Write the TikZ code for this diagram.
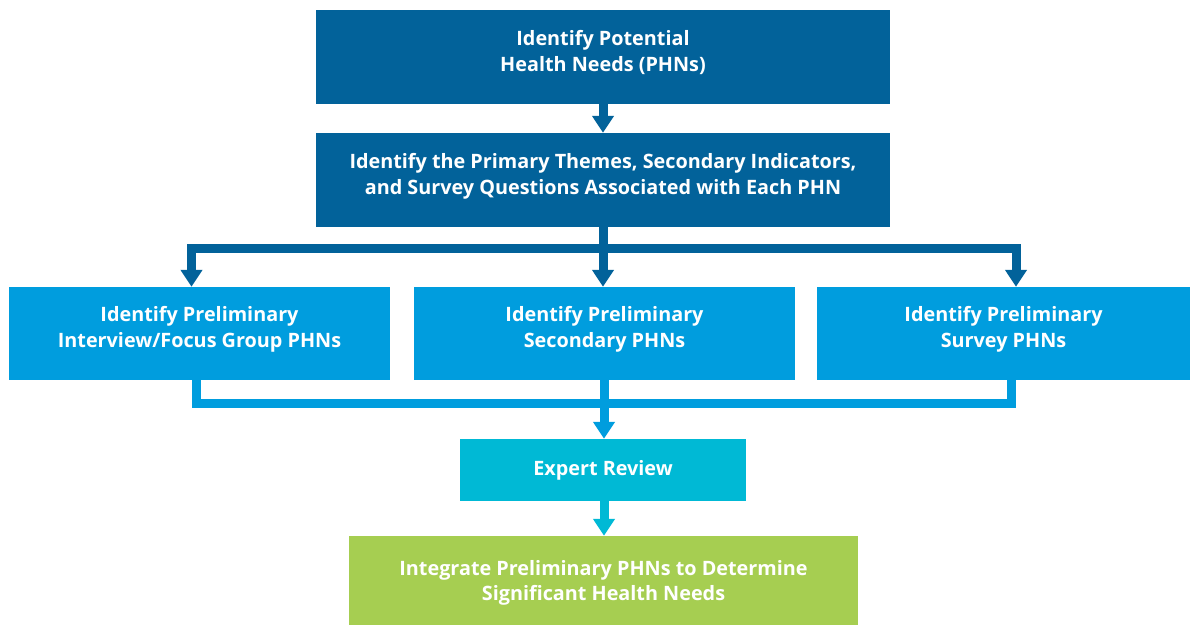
\documentclass[tikz,border=0pt]{standalone}
\usepackage{fontspec}
\setmainfont{Open Sans}
\usetikzlibrary{arrows.meta}
\definecolor{phnDark}{HTML}{02629A}
\definecolor{phnLight}{HTML}{009DDE}
\definecolor{phnTeal}{HTML}{00B9D5}
\definecolor{phnGreen}{HTML}{A6CE51}
\tikzset{
        boxnode/.style={align=center, inner sep=0pt, rectangle, text=white,
                font=\bfseries\fontsize{19.8}{25.5}\selectfont},
        % Top steps
        box_dark/.style={boxnode, fill=phnDark, minimum width=574pt, minimum height=94pt, text depth=12pt},
        % Preliminary PHN steps
        box_light/.style={boxnode, fill=phnLight, minimum height=93pt, text depth=13pt},
        % Review step
        box_teal/.style={boxnode, fill=phnTeal, minimum width=286pt, minimum height=62pt},
        % Final step
        box_green/.style={boxnode, fill=phnGreen, minimum width=509pt, minimum height=89pt, text depth=0pt},
        % Connectors
        tip/.style={-{Triangle[width=21pt,length=17pt]}},
        link_dark/.style={draw=phnDark, line width=9pt},
        link_light/.style={draw=phnLight, line width=9pt},
        link_teal/.style={draw=phnTeal, line width=9pt}
}
\begin{document}
\begin{tikzpicture}[x=1pt, y=-1pt]
    \useasboundingbox (0,0) rectangle (1191,626);
    \node[box_dark] (potential) at (603,57) {Identify Potential\\Health Needs (PHNs)};
    \node[box_dark] (themes) at (603,180) {Identify the Primary Themes, Secondary Indicators,\\and Survey Questions Associated with Each PHN};
    \node[box_light, minimum width=381pt] (interview) at (199.5,333.5) {Identify Preliminary\\Interview/Focus Group PHNs};
    \node[box_light, minimum width=381pt] (secondary) at (604.5,333.5) {Identify Preliminary\\Secondary PHNs};
    \node[box_light, minimum width=373pt] (survey) at (1003.5,333.5) {Identify Preliminary\\Survey PHNs};
    \node[box_teal] (review) at (603,470) {Expert Review};
    \node[box_green] (integrate) at (603.5,580.5) {Integrate Preliminary PHNs to Determine\\Significant Health Needs};

    % split
    \coordinate (split_left) at (191.5,248.5);
    \coordinate (split_right) at (1016,248.5);
    % merge
    \coordinate (merge_left) at (196,403.5);
    \coordinate (merge_right) at (1011.5,403.5);

    \draw[link_dark, tip] (potential.south -| 603,0) -- (themes.north -| 603,0);
    \draw[link_dark, tip] (themes.south -| 603,0) -- (secondary.north -| 603,0);
    \draw[link_dark, tip] (split_left) -- (split_right) -- (survey.north -| split_right);
    \draw[link_dark, tip] (split_right) -- (split_left) -- (interview.north -| split_left);
    \draw[link_light] (interview.south -| merge_left) -- (merge_left) -- (merge_right) -- (survey.south -| merge_right);
    \draw[link_light, tip] (secondary.south -| 604,0) -- (review.north -| 604,0);
    \draw[link_teal, tip] (review.south -| 604,0) -- (integrate.north -| 604,0);
\end{tikzpicture}
\end{document}
